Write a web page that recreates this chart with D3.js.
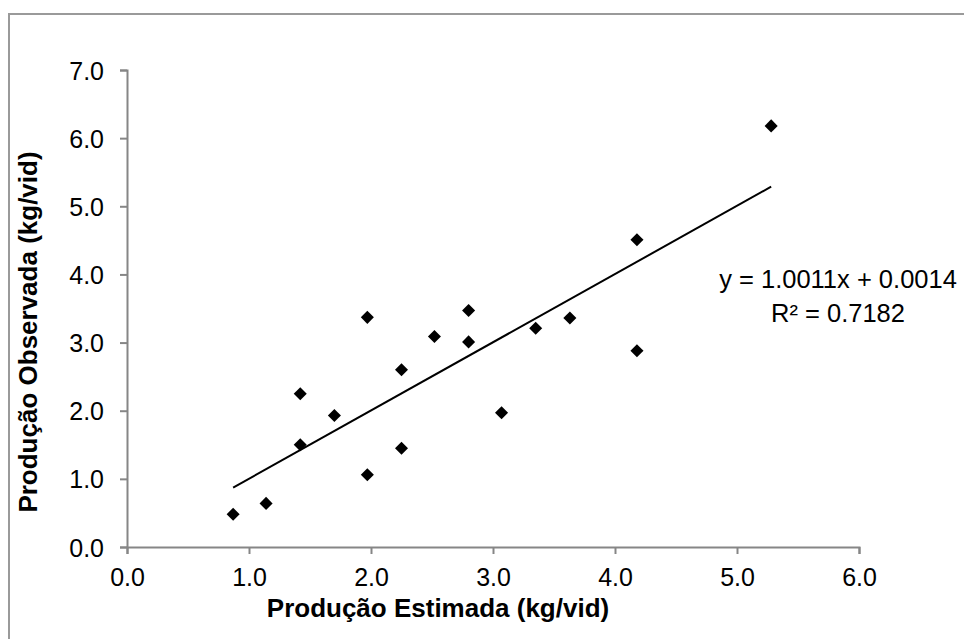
<!DOCTYPE html>
<html>
<head>
<meta charset="utf-8">
<script src="https://cdn.jsdelivr.net/npm/d3@7"></script>
<style>
  body { margin: 0; background: #fff; }
  text { font-family: "Liberation Sans", Arial, sans-serif; fill: #000; }
</style>
</head>
<body>
<div id="container"></div>
<script>
// dados
const estimada  = [0.87, 1.14, 1.42, 1.42, 1.70, 1.97, 1.97, 2.25, 2.25, 2.52, 2.80, 2.80, 3.07, 3.35, 3.63, 4.18, 4.18, 5.28];
const observada = [0.48, 0.64, 2.25, 1.50, 1.93, 3.37, 1.06, 2.60, 1.45, 3.09, 3.47, 3.01, 1.97, 3.21, 3.36, 4.51, 2.88, 6.18];
const xTicks = [0, 1, 2, 3, 4, 5, 6];
const yTicks = [0, 1, 2, 3, 4, 5, 6, 7];
const slope = 1.0011, intercept = 0.0014;
const eqLines = ["y = 1.0011x + 0.0014", "R² = 0.7182"];

const WIDTH = 964, HEIGHT = 639;
const margin = { left: 127, right: 105, top: 70, bottom: 92 };
const width = WIDTH - margin.left - margin.right,
      height = HEIGHT - margin.top - margin.bottom;

const data = estimada.map((x, i) => ({ x: x, y: observada[i] }));

const svg = d3.select('#container').append('svg')
    .attr("width", WIDTH).attr("height", HEIGHT);

// moldura do gráfico
svg.append("rect")
    .attr("x", 9).attr("y", 14)
    .attr("width", WIDTH).attr("height", HEIGHT)
    .attr("fill", "none")
    .attr("stroke", "#9a9a9a")
    .attr("stroke-width", 2);

const xScale = d3.scaleLinear().domain([0, 6]).range([0, width]);
const yScale = d3.scaleLinear().domain([0, 7]).range([height, 0]);

const container = svg.append('g')
    .attr('transform', `translate(${margin.left} ${margin.top})`);

// eixos
const xAxis = d3.axisBottom(xScale).tickValues(xTicks)
    .tickFormat(d3.format(".1f")).tickSizeInner(7).tickSizeOuter(7).tickPadding(14);
const yAxis = d3.axisLeft(yScale).tickValues(yTicks)
    .tickFormat(d3.format(".1f")).tickSizeInner(7).tickSizeOuter(7).tickPadding(16);

const gx = container.append("g")
    .attr("transform", `translate(0, ${height})`)
    .call(xAxis);
const gy = container.append("g").call(yAxis);

[gx, gy].forEach(g => {
    g.selectAll("path, line").attr("stroke", "#868686").attr("stroke-width", 2);
    g.selectAll("text").style("font-size", "25px")
        .style("font-family", '"Liberation Sans", Arial, sans-serif');
});
gy.selectAll("text").attr("dy", "0.36em");
gx.selectAll("text").attr("dy", "0.71em");

// linha de tendência
const xExt = d3.extent(estimada);
container.append("line")
    .attr("x1", xScale(xExt[0]))
    .attr("y1", yScale(slope * xExt[0] + intercept))
    .attr("x2", xScale(xExt[1]))
    .attr("y2", yScale(slope * xExt[1] + intercept))
    .attr("stroke", "#000")
    .attr("stroke-width", 2);

// pontos (losangos)
const diamond = d3.symbol().type(d3.symbolSquare).size(85);
container.selectAll("path.pt")
    .data(data)
    .join("path")
    .attr("class", "pt")
    .attr("d", diamond)
    .attr("transform", d => `translate(${xScale(d.x)}, ${yScale(d.y)}) rotate(45)`)
    .attr("fill", "#000");

// equação
svg.selectAll("text.eq")
    .data(eqLines)
    .join("text")
    .attr("class", "eq")
    .attr("x", 838)
    .attr("y", (d, i) => 288 + i * 33.5)
    .attr("text-anchor", "middle")
    .style("font-size", "25.5px")
    .text(d => d);

// títulos dos eixos
svg.append("text")
    .attr("x", 438).attr("y", 617)
    .attr("text-anchor", "middle")
    .style("font-size", "26px").style("font-weight", "bold")
    .text("Produção Estimada (kg/vid)");

svg.append("text")
    .attr("transform", "translate(37, 332) rotate(-90)")
    .attr("text-anchor", "middle")
    .style("font-size", "26px").style("font-weight", "bold")
    .text("Produção Observada (kg/vid)");
</script>
</body>
</html>
